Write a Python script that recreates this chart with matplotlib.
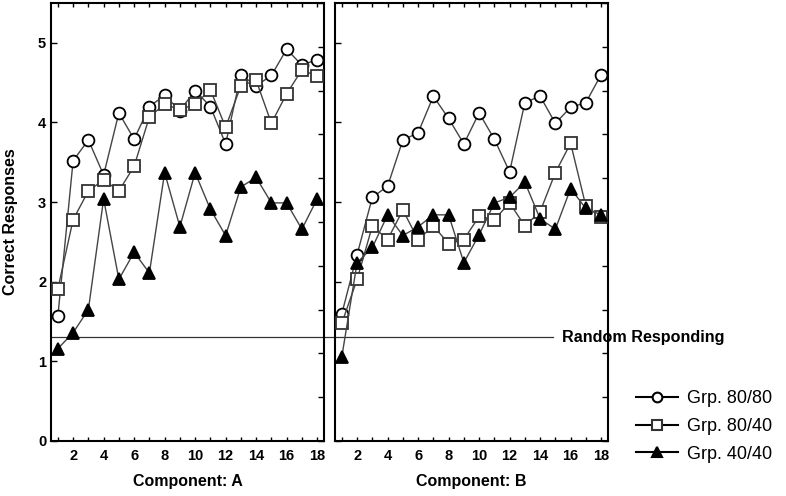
import matplotlib
matplotlib.use("Agg")
import matplotlib.pyplot as plt
from matplotlib.lines import Line2D
import numpy as np

sessions = list(range(1, 19))

# Component A
a_80_80 = [1.57, 3.52, 3.78, 3.34, 4.12, 3.79, 4.20, 4.34, 4.15, 4.40, 4.20, 3.73,
           4.60, 4.46, 4.59, 4.92, 4.72, 4.79]
a_80_40 = [1.91, 2.78, 3.14, 3.28, 3.14, 3.45, 4.07, 4.23, 4.16, 4.23, 4.41, 3.94,
           4.46, 4.53, 3.99, 4.36, 4.66, 4.58]
a_40_40 = [1.16, 1.36, 1.65, 3.04, 2.03, 2.37, 2.11, 3.37, 2.69, 3.37, 2.91, 2.58,
           3.19, 3.31, 2.99, 2.99, 2.66, 3.04]

# Component B
b_80_80 = [1.60, 2.34, 3.06, 3.20, 3.78, 3.87, 4.33, 4.05, 3.73, 4.12, 3.79, 3.38,
           4.25, 4.33, 3.99, 4.19, 4.25, 4.60]
b_80_40 = [1.48, 2.03, 2.70, 2.53, 2.90, 2.53, 2.70, 2.48, 2.53, 2.82, 2.78, 2.99,
           2.70, 2.88, 3.37, 3.74, 2.95, 2.81]
b_40_40 = [1.06, 2.24, 2.43, 2.84, 2.58, 2.69, 2.84, 2.84, 2.24, 2.59, 2.99, 3.06,
           3.25, 2.79, 2.66, 3.17, 2.92, 2.84]

group_labels = ["Grp. 80/80", "Grp. 80/40", "Grp. 40/40"]
random_level = 1.3

plt.rcParams['font.family'] = ['Liberation Sans', 'DejaVu Sans']

fig = plt.figure(figsize=(7.86, 4.96), dpi=100)
ax1 = fig.add_axes([0.0649, 0.1109, 0.3473, 0.883])
ax2 = fig.add_axes([0.4262, 0.1109, 0.3473, 0.883])
ax2.patch.set_alpha(0)

styles = [
    dict(marker='o', mfc='white', mec='black', ms=8.5),
    dict(marker='s', mfc='white', mec='#333333', ms=8),
    dict(marker='^', mfc='black', mec='black', ms=8.5),
]

for ax, series, xlab in [(ax1, [a_80_80, a_80_40, a_40_40], "Component: A"),
                         (ax2, [b_80_80, b_80_40, b_40_40], "Component: B")]:
    for vals, st in zip(series, styles):
        ax.plot(sessions, vals, color='#444444', lw=1.0, mew=1.3, zorder=3, **st)
    ax.set_xlim(0.55, 18.45)
    ax.set_ylim(0, 5.5)
    ax.set_xticks(sessions)
    ax.set_xticklabels([str(s) if s % 2 == 0 else '' for s in sessions])
    ax.set_yticks([0, 1, 2, 3, 4, 5])
    ax.tick_params(axis='x', direction='in', top=True, length=3, width=1, pad=6,
                   labelsize=10.5)
    ax.tick_params(axis='y', direction='in', left=True, right=False, length=4,
                   width=1, labelsize=10.5)
    for lbl in ax.get_xticklabels() + ax.get_yticklabels():
        lbl.set_fontweight('bold')
    sec = ax.secondary_yaxis('right')
    sec.set_yticks(np.linspace(0, 5.5, 11))
    sec.tick_params(direction='in', length=4, width=1, labelright=False)
    sec.spines['right'].set_visible(False)
    for sp in ax.spines.values():
        sp.set_linewidth(1.5)
    ax.set_xlabel(xlab, fontsize=11.5, fontweight='bold', labelpad=8)

ax2.set_yticklabels([])
ax1.set_ylabel("Correct Responses", fontsize=11.5, fontweight='bold', labelpad=14)

# random responding reference line across both panels
ax1.axhline(random_level, xmin=0, xmax=(553 - 51) / 273, color='#333333', lw=0.9,
            clip_on=False, zorder=1)
ax2.text(15.45, random_level, "Random Responding", fontsize=11.6, fontweight='bold',
         va='center', ha='left', clip_on=False)

# legend with black lines and slightly smaller markers
handles = [Line2D([], [], color='black', lw=1.5, mew=1.5,
                  **dict(st, ms=st['ms'] - 1.5)) for st in styles]
fig.legend(handles, group_labels, loc='upper left', bbox_to_anchor=(0.8, 0.228),
           frameon=False, fontsize=13, handlelength=2.3, handletextpad=0.55,
           labelspacing=0.6, borderaxespad=0)

fig.savefig("out.png", dpi=100)
